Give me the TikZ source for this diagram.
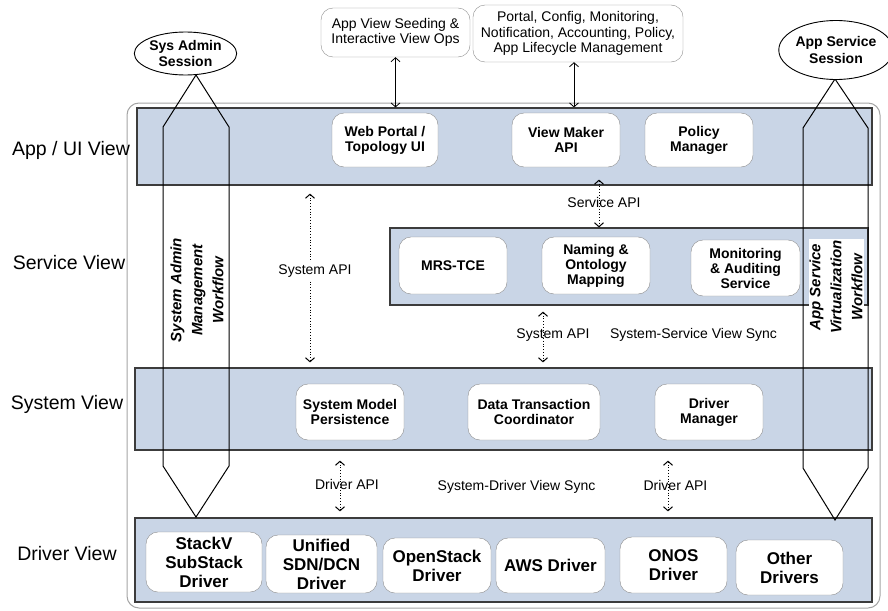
\documentclass[tikz,border=0pt]{standalone}
\usepackage{fontspec}
\setmainfont{Liberation Sans}
\usetikzlibrary{arrows.meta,shapes.geometric}

\definecolor{bandblue}{RGB}{201,213,230}
\definecolor{bandedge}{RGB}{60,60,60}
\definecolor{boxgray}{RGB}{140,140,140}
\definecolor{outergray}{RGB}{165,165,165}

\begin{document}
\begin{tikzpicture}[x=1pt,y=-1pt,
  band/.style={draw=bandedge, fill=bandblue, line width=1.2pt, inner sep=0pt},
  comp/.style={draw=boxgray, fill=white, rounded corners=12pt, align=center, inner sep=1pt, font=\bfseries\fontsize{14}{15}\selectfont},
  drv/.style={comp, font=\bfseries\fontsize{17}{19}\selectfont},
  ext/.style={draw=boxgray, fill=white, rounded corners=12pt, align=center, inner sep=1pt, font=\fontsize{14}{15.5}\selectfont},
  sess/.style={ellipse, draw, line width=0.9pt, fill=white, align=center, inner sep=0pt, font=\bfseries\fontsize{14}{16.5}\selectfont},
  layer/.style={font=\fontsize{19.5}{22}\selectfont},
  api/.style={font=\fontsize{14}{16}\selectfont},
  flow/.style={rotate=90, align=center, inner sep=1pt, font=\bfseries\itshape\fontsize{15}{21}\selectfont},
  link/.style={{Straight Barb[length=4pt,width=9pt]}-{Straight Barb[length=4pt,width=9pt]}, line width=0.8pt},
  dlink/.style={link, dotted, line width=1pt}
]
\useasboundingbox (0,0) rectangle (888,610);

% outer frame and the four view bands
\draw[outergray, line width=1pt, rounded corners=12pt] (127,103) rectangle (880,608);
\node[band, minimum width=735, minimum height=77] (app) at (504.5,146.5) {};
\node[band, minimum width=478, minimum height=77] (service) at (629,266.5) {};
\node[band, minimum width=737, minimum height=82] (system) at (503.5,409) {};
\node[band, minimum width=737, minimum height=84] (driver) at (503.5,560) {};

% layer names
\node[layer] (lapp) at (71,150) {App / UI View};
\node[layer] (lsvc) at (69,263) {Service View};
\node[layer] (lsys) at (67,404) {System View};
\node[layer] (ldrv) at (67,554) {Driver View};

% workflows
\node[flow] (adminflow) at (197,290) {System Admin\\Management\\Workflow};
\node[flow, fill=white] (appflow) at (836,287) {App Service\\Virtualization\\Workflow};
\draw[line width=1pt] (196,75) -- (163,127) -- (163,466) -- (196,517) -- (229,466) -- (229,127) -- cycle;
\draw[line width=1pt] (835,79) -- (803,128) -- (803,468) -- (835,520) -- (868,468) -- (868,128) -- cycle;
\node[sess, minimum width=97, minimum height=43] (sysadm) at (185.5,53.5) {Sys Admin\\Session};
\node[sess, minimum width=101, minimum height=59] (appsvc) at (836,50) {App Service\\Session};

% outside services
\node[ext, minimum width=149, minimum height=49] (seed) at (395.5,32.5) {App View Seeding \&\\Interactive View Ops};
\node[ext, minimum width=210, minimum height=57] (portal) at (578,33.5) {Portal, Config, Monitoring,\\Notification, Accounting, Policy,\\App Lifecycle Management};

% app / ui view
\node[comp, minimum width=106, minimum height=54] (webportal) at (385,140) {Web Portal /\\Topology UI};
\node[comp, minimum width=108, minimum height=54] (viewmaker) at (566,140) {View Maker\\API};
\node[comp, minimum width=108, minimum height=54] (policy) at (699,140) {Policy\\Manager};

% service view
\node[comp, minimum width=108, minimum height=57] (mrs) at (453,265.5) {MRS-TCE};
\node[comp, minimum width=108, minimum height=57] (naming) at (596,265.5) {Naming \&\\Ontology\\Mapping};
\node[comp, minimum width=109, minimum height=56] (monitor) at (745.5,268) {Monitoring\\\& Auditing\\Service};

% system view
\node[comp, minimum width=108, minimum height=56] (persist) at (350,412) {System Model\\Persistence};
\node[comp, minimum width=132, minimum height=56] (dtc) at (534,412) {Data Transaction\\Coordinator};
\node[comp, minimum width=108, minimum height=56] (drvmgr) at (709,412) {Driver\\Manager};

% driver view
\node[drv, minimum width=116, minimum height=60] (stackv) at (204,562) {StackV\\SubStack\\Driver};
\node[drv, minimum width=111, minimum height=58] (sdn) at (321.5,564) {Unified\\SDN/DCN\\Driver};
\node[drv, minimum width=108, minimum height=55] (openstack) at (437,565.5) {OpenStack\\Driver};
\node[drv, minimum width=109, minimum height=55] (aws) at (550.5,565.5) {AWS Driver};
\node[drv, minimum width=107, minimum height=56] (onos) at (673.5,565) {ONOS\\Driver};
\node[drv, minimum width=107, minimum height=55] (other) at (789.5,567.5) {Other\\Drivers};

% external links
\draw[link] (seed.south) -- (seed.south |- app.north);
\draw[link] ([xshift=-4pt]portal.south) -- ([xshift=-4pt]portal.south |- app.north);

% api links
\coordinate (sysA) at (310,0);
\coordinate (svcA) at (599,0);
\coordinate (sysB) at (543,0);
\coordinate (drvA) at (340,0);
\coordinate (drvB) at (668,0);
\draw[dlink, shorten <=8pt, shorten >=5pt] (app.south -| sysA) -- (system.north -| sysA);
\draw[dlink, shorten <=-6pt] (app.south -| svcA) -- (service.north -| svcA);
\draw[dlink, shorten <=6pt, shorten >=5pt] (service.south -| sysB) -- (system.north -| sysB);
\draw[dlink, shorten <=10pt, shorten >=6pt] (system.south -| drvA) -- (driver.north -| drvA);
\draw[dlink, shorten <=10pt, shorten >=6pt] (system.south -| drvB) -- (driver.north -| drvB);

\node[api, fill=white, inner sep=3pt] (sysapiA) at (315,271) {System API};
\node[api] (svcapi) at (604,202) {Service API};
\node[api] (sysapiB) at (553,335) {System API};
\node[api] (svcsync) at (693.5,335) {System-Service View Sync};
\node[api] (drvapiA) at (347,484) {Driver API};
\node[api] (drvsync) at (516.5,487) {System-Driver View Sync};
\node[api] (drvapiB) at (675.5,485) {Driver API};
\end{tikzpicture}
\end{document}
